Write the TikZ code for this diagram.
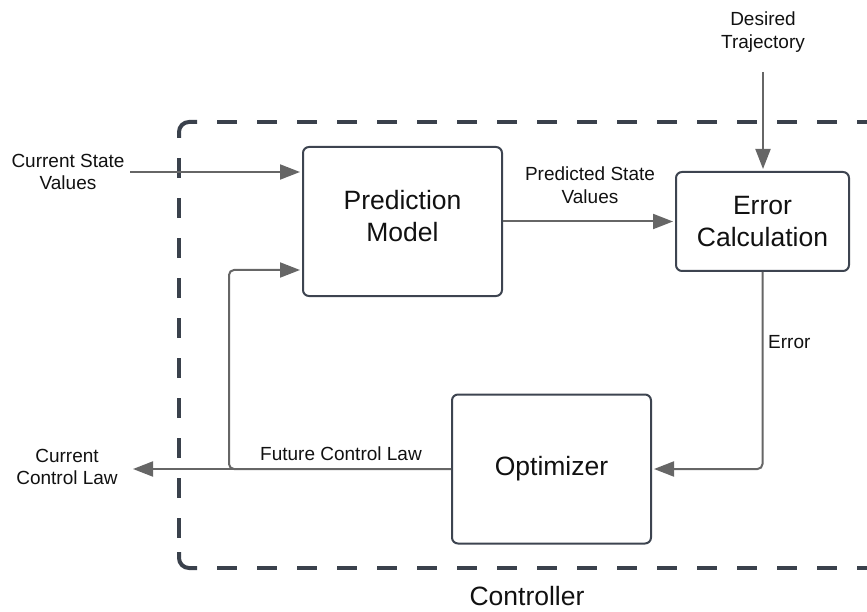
\documentclass[tikz,border=0pt]{standalone}
\usepackage{fontspec}
\setmainfont{Liberation Sans}
\usetikzlibrary{arrows.meta}
\definecolor{boxc}{HTML}{3D4450}
\definecolor{arrc}{HTML}{666666}
\definecolor{dashc}{HTML}{3A414C}
\definecolor{txtc}{HTML}{111111}
\begin{document}
\begin{tikzpicture}[x=1pt,y=-1pt,
 block/.style={draw=boxc, line width=2pt, rounded corners=6pt, fill=white, align=center,
   font=\fontsize{26.5}{32}\selectfont, text=txtc, inner sep=0pt},
 lbl/.style={align=center, font=\fontsize{19}{22.5}\selectfont, text=txtc, inner sep=0pt},
 bigl/.style={font=\fontsize{26.5}{32}\selectfont, text=txtc, inner sep=0pt},
 arr/.style={draw=arrc, line width=2pt, -{Triangle[length=20pt,width=15pt]}, rounded corners=5pt, shorten >=2pt},
 ctr/.style={draw=dashc, line width=4pt},
 ctrdash/.style={ctr, dash pattern=on 20pt off 20pt},
]
\useasboundingbox (0,0) rectangle (867,612);
% container
\draw[ctr, rounded corners=10pt] (179,138) -- (179,122) -- (197,122);
\draw[ctr, rounded corners=10pt] (179,552) -- (179,568) -- (197,568);
\draw[ctrdash] (217,122) -- (880,122);
\draw[ctrdash] (179,158) -- (179,538);
\draw[ctrdash] (217,568) -- (880,568);
% blocks
\node[block, minimum width=199pt, minimum height=149pt,
  label={[bigl, align=center, yshift=5pt]center:{Prediction\\Model}}] (pm) at (402.5,221.5) {};
\node[block, minimum width=173pt, minimum height=99pt] (ec) at (762.5,221.5) {Error\\Calculation};
\node[block, minimum width=199pt, minimum height=149pt] (opt) at (551.5,469) {Optimizer};
% coordinates
\coordinate (csin) at (130,172);
\coordinate (fbj) at (229,469);
\coordinate (fbtop) at (229,270);
\coordinate (ccl) at (131,469);
\coordinate (dtin) at (763,72);
% connectors
\draw[arr] (csin) -- (csin -| pm.west);
\draw[arr] (opt.west) -- (ccl);
\draw[arr] (opt.west) -- (fbj) -- (fbtop) -- (fbtop -| pm.west);
\draw[arr] (pm.east) -- (pm.east -| ec.west);
\draw[arr] (dtin) -- (dtin |- ec.north);
\draw[arr] (ec.south) |- (opt.east);
% labels
\node[lbl] (csl) at (68,172) {Current State\\Values};
\node[lbl] (psl) at (590,185) {Predicted State\\Values};
\node[lbl] (dtl) at (763,32) {Desired\\Trajectory};
\node[lbl, anchor=west] (errl) at (768,342) {Error};
\node[lbl] (fcl) at (341,454) {Future Control Law};
\node[lbl] (ccll) at (67,467) {Current\\Control Law};
\node[bigl] (ctrl) at (527,596) {Controller};
\end{tikzpicture}
\end{document}
